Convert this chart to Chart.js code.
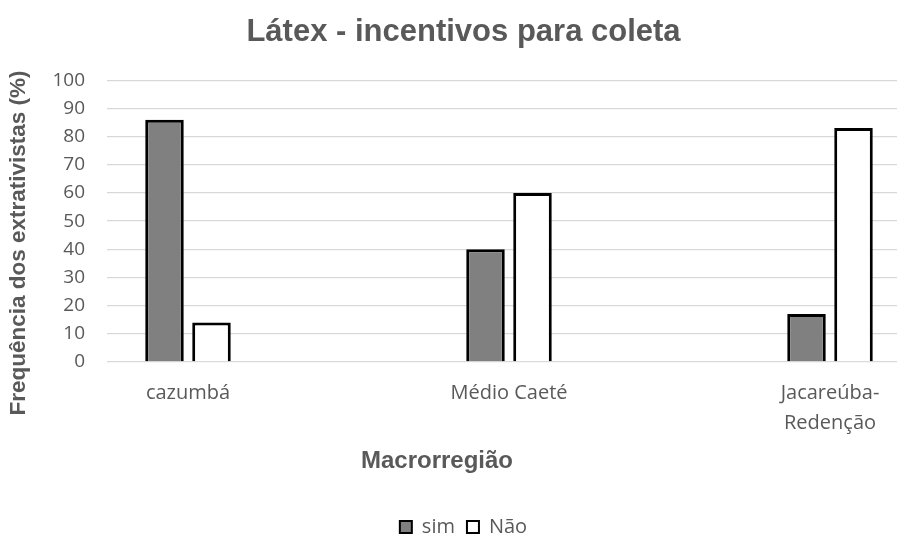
<!DOCTYPE html>
<html>
<head>
<meta charset="utf-8">
<script src="https://cdn.jsdelivr.net/npm/chart.js@4.4.1/dist/chart.umd.min.js"></script>
<style>
  html, body { margin: 0; padding: 0; background: #fff; }
  #wrap { width: 897px; height: 536px; }
</style>
</head>
<body>
<div id="wrap"><canvas id="chart" width="897" height="536"></canvas></div>
<script>
// Datos
const categories = ['cazumbá', 'Médio Caeté', ['Jacareúba-', 'Redenção']];
const simValues = [86, 40, 17];
const naoValues = [14, 60, 83];
const yTicks = [0, 10, 20, 30, 40, 50, 60, 70, 80, 90, 100];

const grey = '#595959';

// Títulos de ejes dibujados a mano para colocarlos donde los pone Excel
const axisTitles = {
  id: 'axisTitles',
  afterDraw(chart) {
    const ctx = chart.ctx;
    ctx.save();
    ctx.fillStyle = grey;
    ctx.font = 'bold 24px "Liberation Sans", Arial, sans-serif';
    ctx.textAlign = 'center';
    ctx.textBaseline = 'middle';
    ctx.fillText('Macrorregião', 437, 461);
    ctx.translate(19, 243);
    ctx.rotate(-Math.PI / 2);
    ctx.font = 'bold 22.5px "Liberation Sans", Arial, sans-serif';
    ctx.fillText('Frequência dos extrativistas (%)', 0, 0);
    ctx.restore();
  }
};

const toPoints = arr => arr.map((v, i) => ({ x: i, y: v }));

new Chart(document.getElementById('chart'), {
  type: 'bar',
  data: {
    datasets: [
      {
        label: 'sim',
        data: toPoints(simValues),
        backgroundColor: '#808080',
        borderColor: '#000',
        borderWidth: 3,
        borderSkipped: 'start',
        categoryPercentage: 0.2928,
        barPercentage: 0.82
      },
      {
        label: 'Não',
        data: toPoints(naoValues),
        backgroundColor: '#ffffff',
        borderColor: '#000',
        borderWidth: 3,
        borderSkipped: 'start',
        categoryPercentage: 0.2928,
        barPercentage: 0.82
      }
    ]
  },
  options: {
    responsive: false,
    animation: false,
    layout: { padding: { left: 30, right: 0, top: 0, bottom: -11 } },
    plugins: {
      title: {
        display: true,
        text: 'Látex - incentivos para coleta',
        color: grey,
        font: { family: '"Liberation Sans", Arial, sans-serif', size: 31, weight: 'bold' },
        padding: { top: 14, bottom: 29 }
      },
      legend: {
        position: 'bottom',
        labels: {
          color: grey,
          font: { family: '"Open Sans"', size: 20 },
          boxWidth: 12,
          boxHeight: 12,
          padding: 12,
          generateLabels(chart) {
            const items = Chart.defaults.plugins.legend.labels.generateLabels(chart);
            items.forEach(it => { it.lineWidth = 2; });
            return items;
          }
        }
      },
      tooltip: { enabled: false }
    },
    scales: {
      x: {
        type: 'linear',
        offset: false,
        min: -0.2523,
        max: 2.2087,
        grid: { display: false, drawTicks: false },
        border: { display: false },
        afterBuildTicks(scale) {
          scale.ticks = categories.map((c, i) => ({ value: i }));
        },
        afterFit(scale) { scale.height = 143; },
        ticks: {
          color: grey,
          font: { family: '"Open Sans"', size: 20, lineHeight: 1.5 },
          padding: 16,
          autoSkip: false,
          maxRotation: 0,
          callback: v => categories[v]
        }
      },
      y: {
        min: 0,
        max: 100,
        afterBuildTicks(scale) {
          scale.ticks = yTicks.map(v => ({ value: v }));
        },
        afterFit(scale) { scale.width = 77; },
        grid: { color: '#d9d9d9', lineWidth: 1.3, drawTicks: false },
        border: { display: false },
        ticks: { color: grey, font: { family: '"Open Sans"', size: 19 }, padding: 22 }
      }
    }
  },
  plugins: [axisTitles]
});
</script>
</body>
</html>
